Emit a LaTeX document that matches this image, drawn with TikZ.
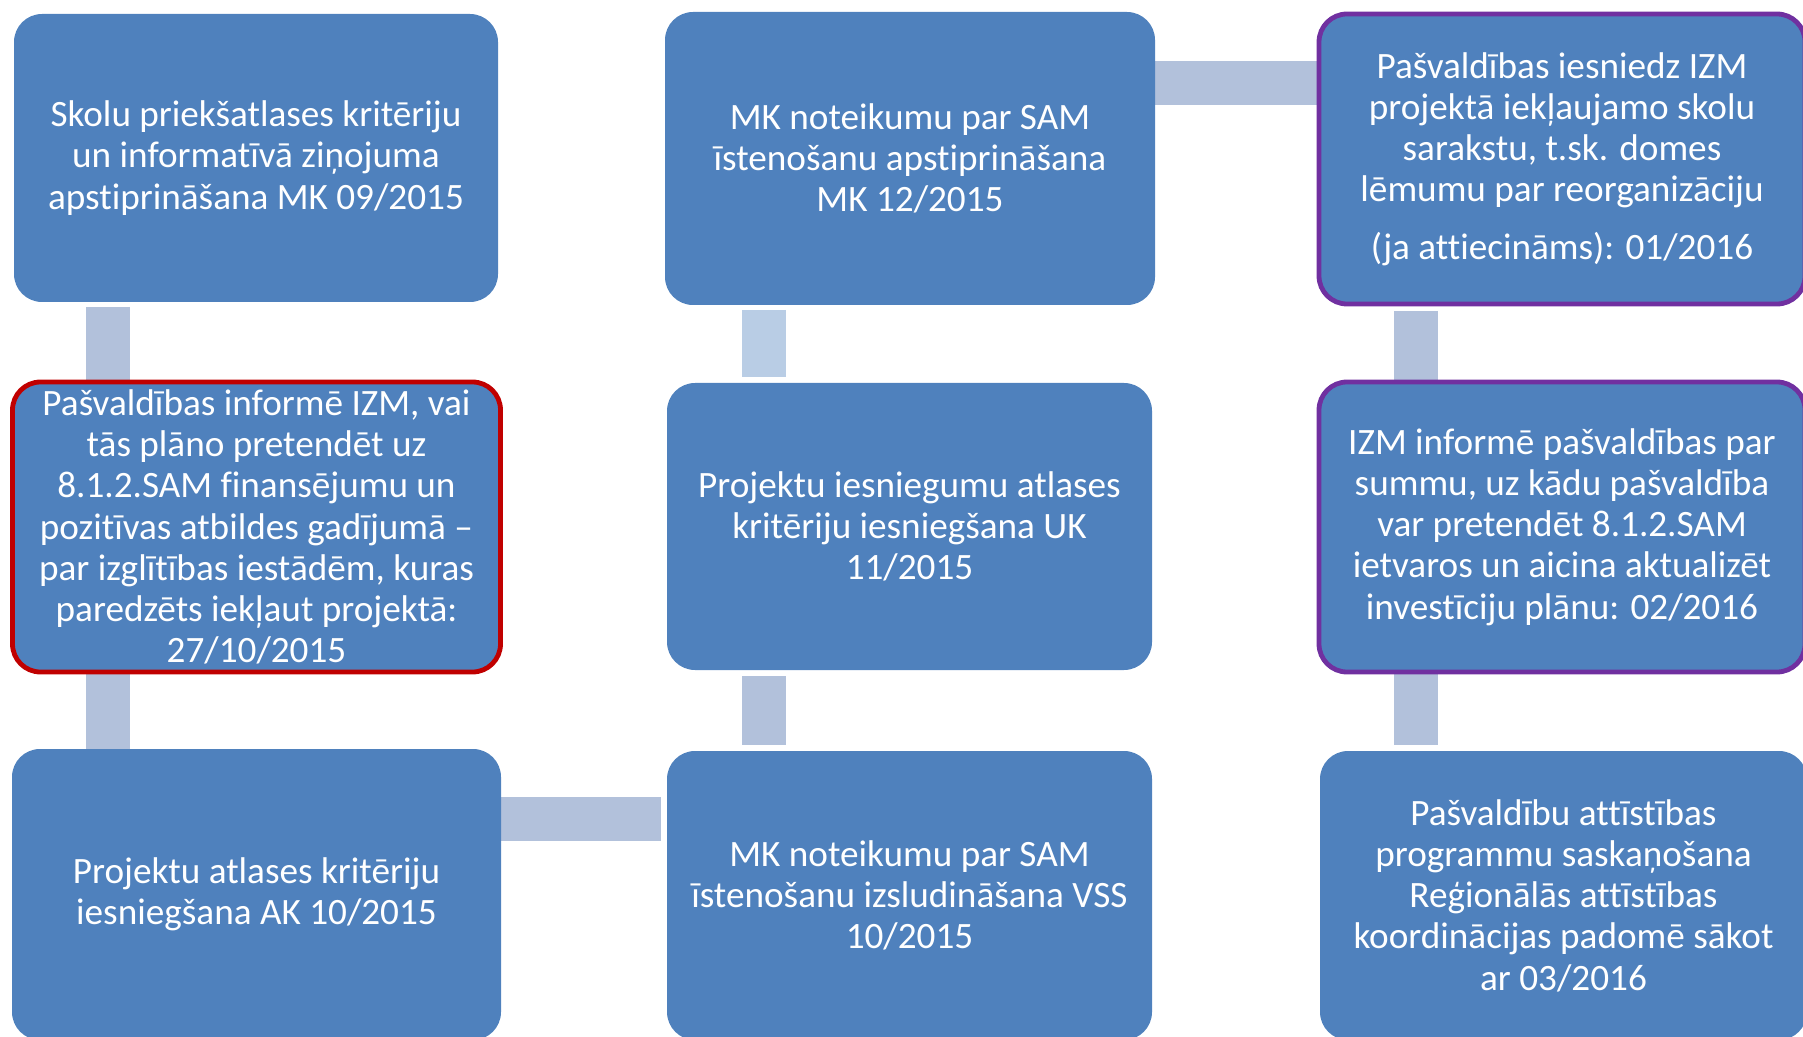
\documentclass[tikz,border=0pt]{standalone}
\usepackage{fontspec}
\setmainfont{Carlito}[Ligatures={NoCommon,NoContextual,NoRequired},RawFeature={-liga;-clig;-calt;-dlig}]
\usetikzlibrary{calc}
\definecolor{boxblue}{HTML}{4F81BD}
\definecolor{barblue}{HTML}{B2C1DB}
\definecolor{barlight}{HTML}{B9CDE5}
\definecolor{redline}{HTML}{C00000}
\definecolor{purpleline}{HTML}{7030A0}
\tikzset{
  box/.style={rectangle, rounded corners=14pt, fill=boxblue, draw=none,
    text=white, align=center, inner sep=0pt,
    font=\fontsize{18.6}{20.6}\selectfont},
  redbox/.style={box, draw=redline, line width=2.4pt},
  purplebox/.style={box, draw=purpleline, line width=2.4pt},
  bar/.style={draw=barblue, line width=22pt},
  barl/.style={draw=barlight, line width=22pt}
}
\begin{document}
\begin{tikzpicture}[x=0.5pt,y=-0.5pt]
\useasboundingbox (0,0) rectangle (1803,1037);
\clip (0,0) rectangle (1803,1037);
% bar positions
\coordinate (c1) at (107.5,0);
\coordinate (c2) at (763.6,0);
\coordinate (c3) at (1416,0);
\coordinate (rt) at (0,83);
\coordinate (rb) at (0,819);
% connector end points at box edges
\coordinate (b1s) at (256,302);
\coordinate (b2n) at (256,380);
\coordinate (b2s) at (256,674);
\coordinate (b3n) at (256,749);
\coordinate (b4s) at (910,305);
\coordinate (b5n) at (910,383);
\coordinate (b5s) at (910,670);
\coordinate (b6n) at (910,751);
\coordinate (b7s) at (1562,306);
\coordinate (b8n) at (1562,380);
\coordinate (b8s) at (1562,674);
\coordinate (b9n) at (1562,751);
\coordinate (b3e) at (501,0);
\coordinate (b6w) at (667,0);
\coordinate (b4e) at (1155,0);
\coordinate (b7w) at (1317,0);
\draw[bar] ($(b1s -| c1)+(0,5)$) -- (b2n -| c1);
\draw[bar] (b2s -| c1) -- (b3n -| c1);
\draw[barl] ($(b4s -| c2)+(0,5)$) -- ($(b5n -| c2)+(0,-6)$);
\draw[bar] ($(b5s -| c2)+(0,6)$) -- ($(b6n -| c2)+(0,-6)$);
\draw[bar] ($(b7s -| c3)+(0,5)$) -- (b8n -| c3);
\draw[bar] (b8s -| c3) -- ($(b9n -| c3)+(0,-6)$);
\draw[bar] (b3e |- rb) -- ($(b6w |- rb)+(-6,0)$);
\draw[bar] (b4e |- rt) -- (b7w |- rt);
% boxes
\node[box, minimum width=242pt, minimum height=144pt] (b1) at (256,158)
  {Skolu priekšatlases kritēriju\\un informatīvā ziņojuma\\apstiprināšana MK 09/2015};
\node[redbox, minimum width=244pt, minimum height=145pt] (b2) at (256.5,527)
  {Pašvaldības informē IZM, vai\\tās plāno pretendēt uz\\8.1.2.SAM finansējumu un\\pozitīvas atbildes gadījumā –\\par izglītības iestādēm, kuras\\paredzēts iekļaut projektā:\\27/10/2015};
\node[box, minimum width=244.5pt, minimum height=145.5pt] (b3) at (256.5,894.5)
  {Projektu atlases kritēriju\\iesniegšana AK 10/2015};
\node[box, minimum width=245pt, minimum height=146.5pt] (b4) at (910,158.5)
  {MK noteikumu par SAM\\īstenošanu apstiprināšana\\MK 12/2015};
\node[box, minimum width=242.5pt, minimum height=143.5pt] (b5) at (909.5,526.5)
  {Projektu iesniegumu atlases\\kritēriju iesniegšana UK\\11/2015};
\node[box, minimum width=242.5pt, minimum height=144.5pt] (b6) at (909.5,895.5)
  {MK noteikumu par SAM\\īstenošanu izsludināšana VSS\\10/2015};
\node[purplebox, minimum width=243pt, minimum height=145pt] (b7) at (1562,159)
  {Pašvaldības iesniedz IZM\\projektā iekļaujamo skolu\\sarakstu, t.sk. domes\\lēmumu par reorganizāciju\\[8pt](ja attiecināms): 01/2016};
\node[purplebox, minimum width=243pt, minimum height=145pt] (b8) at (1562,527)
  {IZM informē pašvaldības par\\summu, uz kādu pašvaldība\\var pretendēt 8.1.2.SAM\\ietvaros un aicina aktualizēt\\investīciju plānu: 02/2016};
\node[box, minimum width=243.5pt, minimum height=144.5pt] (b9) at (1563.5,895.5)
  {Pašvaldību attīstības\\programmu saskaņošana\\Reģionālās attīstības\\koordinācijas padomē sākot\\ar 03/2016};
\end{tikzpicture}
\end{document}
